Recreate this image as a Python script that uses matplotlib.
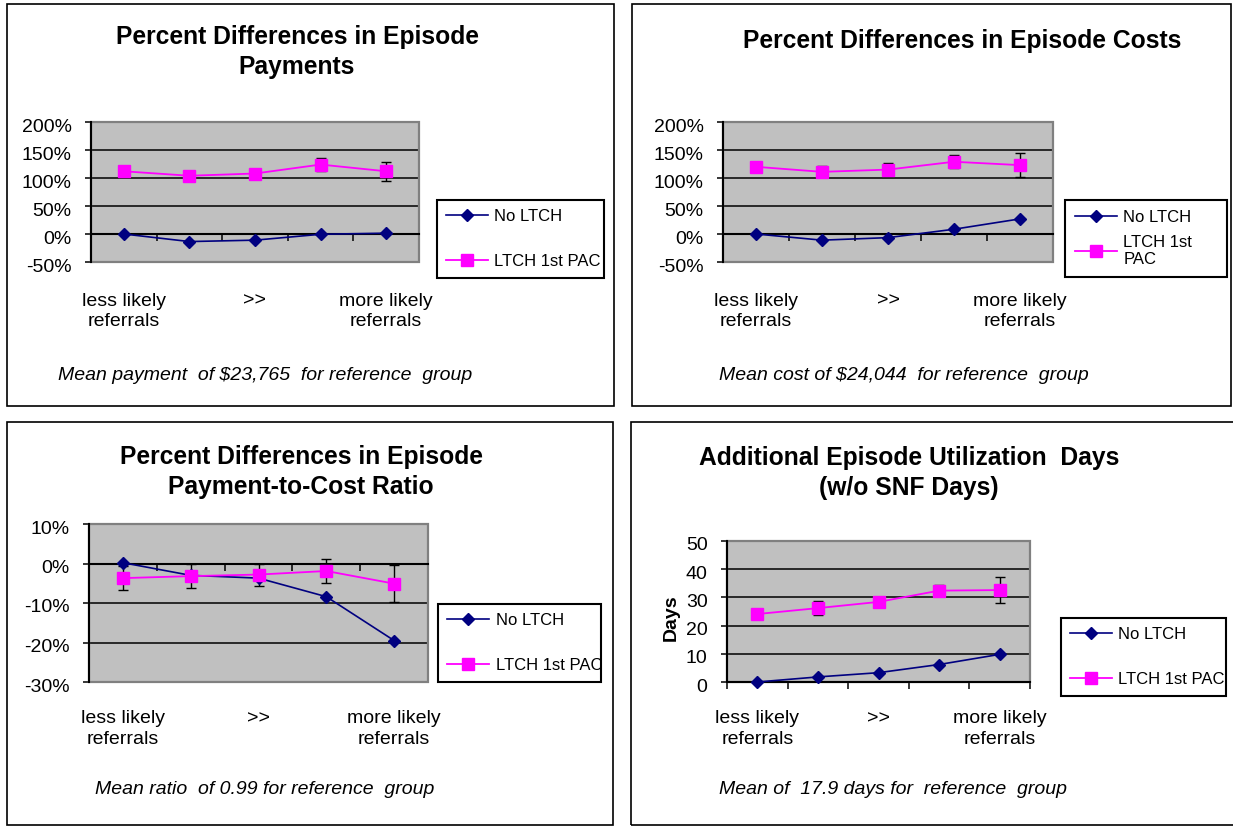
import matplotlib
matplotlib.use("Agg")
import matplotlib.pyplot as plt
from matplotlib.patches import Rectangle
from matplotlib.ticker import FuncFormatter, MultipleLocator, FixedLocator, NullLocator
from matplotlib.transforms import blended_transform_factory, ScaledTranslation
import numpy as np

plt.rcParams['font.family'] = ['Liberation Sans', 'DejaVu Sans']

# ---------------- data ----------------
categories = ["less likely\nreferrals", "", ">>", "", "more likely\nreferrals"]
series_names = ["No LTCH", "LTCH 1st PAC"]

pay_no_ltch = [0, -13.5, -11, -0.5, 1.5]
pay_ltch = [112, 104, 108, 124, 112]
pay_ltch_err = [4, 9, 4, 11, 17]

cost_no_ltch = [0, -11, -6.5, 8.5, 27]
cost_ltch = [120, 111, 115, 129, 123]
cost_ltch_err = [4, 10, 12, 12, 21]

ratio_no_ltch = [0.2, -3.0, -3.7, -8.4, -19.5]
ratio_ltch = [-3.7, -3.2, -2.8, -1.9, -5.1]
ratio_ltch_err = [3.0, 3.1, 2.8, 3.0, 4.6]

days_no_ltch = [0, 1.8, 3.3, 6.2, 9.8]
days_ltch = [24.1, 26.2, 28.4, 32.4, 32.6]
days_ltch_err = [1.2, 2.4, 1.2, 1.9, 4.6]

titles = ["Percent Differences in Episode\nPayments",
          "Percent Differences in Episode Costs",
          "Percent Differences in Episode\nPayment-to-Cost Ratio",
          "Additional Episode Utilization  Days\n(w/o SNF Days)"]
notes = ["Mean payment  of $23,765  for reference  group",
         "Mean cost of $24,044  for reference  group",
         "Mean ratio  of 0.99 for reference  group",
         "Mean of  17.9 days for  reference  group"]

# ---------------- layout (pixels) ----------------
W, H = 1233, 827
DPI = 100
fig = plt.figure(figsize=(W / DPI, H / DPI), dpi=DPI)
fig.patch.set_facecolor('white')

panels = [
    dict(frame=(7, 4, 614, 406), axes=(91, 122, 419, 262), ylim=(-50, 200), step=50, pct=True,
         no=pay_no_ltch, lt=pay_ltch, err=pay_ltch_err, leg=(437, 200, 604), title_xy=(297, 52),
         cat_top=292.5, note_xy=(265, 375), ltch_label=series_names[1], ylabel=None,
         leg_bp=0.55, leg_ls=1.8),
    dict(frame=(632, 4, 1231, 406), axes=(723, 122, 1053, 262), ylim=(-50, 200), step=50, pct=True,
         no=cost_no_ltch, lt=cost_ltch, err=cost_ltch_err, leg=(1065, 200, 1227), title_xy=(962, 41),
         cat_top=292.5, note_xy=(904, 375), ltch_label="LTCH 1st\nPAC", ylabel=None,
         leg_bp=0.6, leg_ls=0.6),
    dict(frame=(7, 422, 613, 825), axes=(89, 524, 428, 682), ylim=(-30, 10), step=10, pct=True,
         no=ratio_no_ltch, lt=ratio_ltch, err=ratio_ltch_err, leg=(438, 604, 601), title_xy=(301, 472),
         cat_top=710, note_xy=(265, 789.6), ltch_label=series_names[1], ylabel=None,
         leg_bp=0.55, leg_ls=1.8),
    dict(frame=(631, 422, 1240, 825), axes=(727, 541, 1030, 682), ylim=(0, 50), step=10, pct=False,
         no=days_no_ltch, lt=days_ltch, err=days_ltch_err, leg=(1061, 618, 1226), title_xy=(909, 473),
         cat_top=710, note_xy=(893, 789.6), ltch_label=series_names[1], ylabel="Days",
         leg_bp=0.55, leg_ls=1.8),
]

NAVY = '#000080'
MAGENTA = '#FF00FF'
GRAY_BG = '#C0C0C0'

for i, p in enumerate(panels):
    # panel frame
    x0, y0, x1, y1 = p['frame']
    fig.patches.append(Rectangle((x0 / W, 1 - y1 / H), (x1 - x0) / W, (y1 - y0) / H,
                                 transform=fig.transFigure, fill=False, ec='black', lw=1.2))

    ax0, ay0, ax1, ay1 = p['axes']
    ax = fig.add_axes([ax0 / W, 1 - ay1 / H, (ax1 - ax0) / W, (ay1 - ay0) / H])
    ax.set_facecolor(GRAY_BG)
    xs = np.arange(1, len(categories) + 1)
    ax.set_xlim(0.5, len(categories) + 0.5)
    ax.set_ylim(*p['ylim'])

    # gridlines
    ax.yaxis.set_major_locator(MultipleLocator(p['step']))
    ax.yaxis.grid(True, color='black', lw=1.1, zorder=1)
    ax.set_axisbelow(True)

    # plot border (gray)
    ax.add_patch(Rectangle((0, 0), 1, 1, transform=ax.transAxes, fill=False,
                           ec='#808080', lw=1.6, zorder=2.4, clip_on=False))
    for s in ['top', 'right']:
        ax.spines[s].set_visible(False)
    ax.spines['left'].set_color('black')
    ax.spines['left'].set_linewidth(1.5)
    ax.spines['bottom'].set_position(('data', 0))
    ax.spines['bottom'].set_color('black')
    ax.spines['bottom'].set_linewidth(1.5)

    # x ticks at category boundaries
    ax.xaxis.set_major_locator(NullLocator())
    ax.xaxis.set_minor_locator(FixedLocator(np.arange(len(categories) + 1) + 0.5))
    ax.tick_params(axis='x', which='minor', direction='out', length=5, width=1.1, color='black')

    ax.tick_params(axis='y', which='major', direction='out', length=4, width=1.1,
                   pad=10, labelsize=14, color='black')
    if p['pct']:
        ax.yaxis.set_major_formatter(FuncFormatter(lambda v, pos: f"{v:.0f}%"))
    else:
        ax.yaxis.set_major_formatter(FuncFormatter(lambda v, pos: f"{v:.0f}"))
    off = ScaledTranslation(0, -3 / DPI, fig.dpi_scale_trans)
    for lab in ax.get_yticklabels():
        lab.set_transform(lab.get_transform() + off)

    # data
    ax.errorbar(xs, p['lt'], yerr=p['err'], fmt='none', ecolor='black', elinewidth=1.0,
                capsize=3.5, capthick=1.0, zorder=3, clip_on=False)
    l_no, = ax.plot(xs, p['no'], color=NAVY, lw=1.2, marker='D', ms=6,
                    mfc=NAVY, mec=NAVY, zorder=4, clip_on=False, label=series_names[0])
    l_lt, = ax.plot(xs, p['lt'], color=MAGENTA, lw=1.3, marker='s', ms=8.5,
                    mfc=MAGENTA, mec=MAGENTA, zorder=5, clip_on=False, label=p['ltch_label'])

    # category labels
    tr = blended_transform_factory(ax.transData, fig.transFigure)
    for x, c in zip(xs, categories):
        if c:
            ax.text(x, 1 - p['cat_top'] / H, c, transform=tr, ha='center', va='top',
                    fontsize=14, linespacing=1.3)

    # legend (fixed width box, expanded horizontally)
    lx, ly, lx1 = p['leg']
    leg = ax.legend(handles=[l_no, l_lt], loc='upper left', mode='expand',
                    bbox_to_anchor=(lx / W, 1 - ly / H, (lx1 - lx) / W, 0.0),
                    bbox_transform=fig.transFigure,
                    frameon=True, fancybox=False, edgecolor='black', framealpha=1,
                    fontsize=12, borderpad=p['leg_bp'], labelspacing=p['leg_ls'],
                    handlelength=2.5, handletextpad=0.4, borderaxespad=0)
    leg.get_frame().set_linewidth(1.5)

    # title
    tx, ty = p['title_xy']
    fig.text(tx / W, 1 - ty / H, titles[i], ha='center', va='center', fontsize=17.7,
             fontweight='bold', linespacing=1.28)

    # note
    nx, ny = p['note_xy']
    fig.text(nx / W, 1 - ny / H, notes[i], ha='center', va='center', fontsize=14,
             style='italic')

    if p['ylabel']:
        fig.text(671 / W, 1 - 618 / H, p['ylabel'], rotation=90, ha='center', va='center',
                 fontsize=14, fontweight='bold')

fig.savefig('out.png', dpi=DPI)
